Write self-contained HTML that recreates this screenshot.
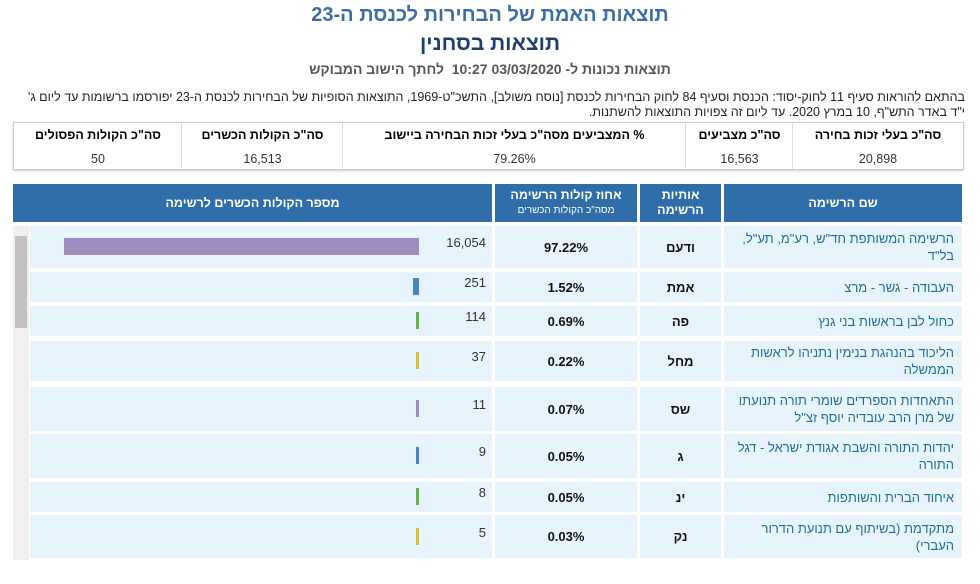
<!DOCTYPE html>
<html lang="he" dir="rtl"><head><meta charset="utf-8">
<style>
body{margin:0;width:980px;height:584px;background:#fff;font-family:"Liberation Sans","Noto Sans CJK SC",sans-serif;position:relative;overflow:hidden}
.a{position:absolute}
.t1{top:4px;left:0;width:980px;text-align:center;font-size:20px;font-weight:bold;color:#3a6ea5}
.t2{top:32px;left:0;width:980px;text-align:center;font-size:21px;font-weight:bold;color:#1f3d6b}
.t3{top:61px;left:0;width:980px;text-align:center;font-size:14px;font-weight:bold;color:#555}
.p{top:90px;left:10px;width:955px;font-size:12.5px;line-height:15px;color:#222;text-align:right}
.sum{top:122px;left:13px;width:949px;height:46px;border:1px solid #ccc;box-shadow:0 1px 2px #ccc}
.sc{position:absolute;top:0;height:46px;border-left:1px solid #ddd;font-size:12.5px;text-align:center}
.sc b{display:block;margin-top:5px}
.sc span{display:block;margin-top:10px;color:#333}
.hd{top:184px;height:38px;background:#2f6ea8;color:#fff;font-weight:bold;font-size:12.5px;text-align:center;display:flex;align-items:center;justify-content:center;flex-direction:column;line-height:15px}
.cell{position:absolute;background:#e8f4fc;display:flex;align-items:center}
.nm{color:#1d6f96;font-size:13px;justify-content:flex-start;padding-right:8px;box-sizing:border-box;line-height:17px}
.pc,.lt{font-weight:bold;font-size:13px;justify-content:center;color:#111}
.vl{position:absolute;font-size:13px;color:#333;text-align:right;width:60px}
</style></head><body>
<div class="a t1">תוצאות האמת של הבחירות לכנסת ה-23</div>
<div class="a t2">תוצאות בסחנין</div>
<div class="a t3">תוצאות נכונות ל- 03/03/2020 10:27 &nbsp;לחתך הישוב המבוקש</div>
<div class="a p">בהתאם להוראות סעיף 11 לחוק-יסוד: הכנסת וסעיף 84 לחוק הבחירות לכנסת [נוסח משולב], התשכ"ט-1969, התוצאות הסופיות של הבחירות לכנסת ה-23 יפורסמו ברשומות עד ליום ג' י"ד באדר התש"ף, 10 במרץ 2020. עד ליום זה צפויות התוצאות להשתנות.</div>
<div class="a sum">
<div class="sc" style="right:0;width:170px;border-left:1px solid #ddd"><b>סה"כ בעלי זכות בחירה</b><span>20,898</span></div>
<div class="sc" style="right:170px;width:107px"><b>סה"כ מצביעים</b><span>16,563</span></div>
<div class="sc" style="right:277px;width:343px"><b>% המצביעים מסה"כ בעלי זכות הבחירה ביישוב</b><span>79.26%</span></div>
<div class="sc" style="right:620px;width:161px"><b>סה"כ הקולות הכשרים</b><span>16,513</span></div>
<div class="sc" style="right:781px;width:168px;border-left:none"><b>סה"כ הקולות הפסולים</b><span>50</span></div>
</div>
<div class="a hd" style="left:724px;width:238px">שם הרשימה</div>
<div class="a hd" style="left:640px;width:81px">אותיות<br>הרשימה</div>
<div class="a hd" style="left:495px;width:142px">אחוז קולות הרשימה<span style="font-size:10px;font-weight:normal">מסה"כ הקולות הכשרים</span></div>
<div class="a hd" style="left:13px;width:479px">מספר הקולות הכשרים לרשימה</div>
<div class="a" style="left:13px;top:226px;width:16px;height:334px;background:#f0f0f0"><div style="position:absolute;top:10px;left:2px;width:12px;height:92px;background:#c1c1c1"></div></div>
<div id="rows"></div>
<script>
const names=['הרשימה המשותפת חד"ש, רע"מ, תע"ל, בל"ד','העבודה - גשר - מרצ','כחול לבן בראשות בני גנץ','הליכוד בהנהגת בנימין נתניהו לראשות הממשלה','התאחדות הספרדים שומרי תורה תנועתו של מרן הרב עובדיה יוסף זצ"ל','יהדות התורה והשבת אגודת ישראל - דגל התורה','איחוד הברית והשותפות','מתקדמת (בשיתוף עם תנועת הדרור העברי)'];
const letters=['ודעם','אמת','פה','מחל','שס','ג','ינ','נק'];
const votes=[16054,251,114,37,11,9,8,5];
const pcts=['97.22%','1.52%','0.69%','0.22%','0.07%','0.05%','0.05%','0.03%'];
const colors=['#a08cbf','#4a86c5','#6ab04c','#d4c03c','#a08cbf','#4a86c5','#6ab04c','#d4c03c'];
const tops=[226,272,306,341,387,434,482,515],hs=[42,30,30,40,44,44,30,43];
const maxV=16054,barRight=419,barMax=355;
const x=v=>Math.max(3,v/maxV*barMax);
const root=document.getElementById('rows');
function mk(cls,l,t,w,h,txt){const d=document.createElement('div');d.className=cls;d.style.cssText=`left:${l}px;top:${t}px;width:${w}px;height:${h}px`;if(txt!=null)d.textContent=txt;root.appendChild(d);return d;}
votes.forEach((v,i)=>{
 const t=tops[i],h=hs[i];
 const n=mk('cell nm',724,t,238,h,names[i]);
 
 
 const l=mk('cell lt',640,t,81,h,letters[i]);
 
 
 const p=mk('cell pc',495,t,142,h,pcts[i]);
 
 
 const c=mk('cell',30,t,462,h);
 
 
 const w=x(v);
 const b=document.createElement('div');
 b.style.cssText=`position:absolute;left:${barRight-w-30}px;top:${h/2-9}px;width:${w}px;height:17px;background:${colors[i]}`;
 
 
 c.appendChild(b);
 const tx=document.createElement('div');tx.className='vl';
 tx.style.cssText+=`;left:${486-30-60}px;top:${h/2-12}px`;
 tx.textContent=v.toLocaleString('en-US');
 
 
 c.appendChild(tx);
});
</script>
</body></html>
